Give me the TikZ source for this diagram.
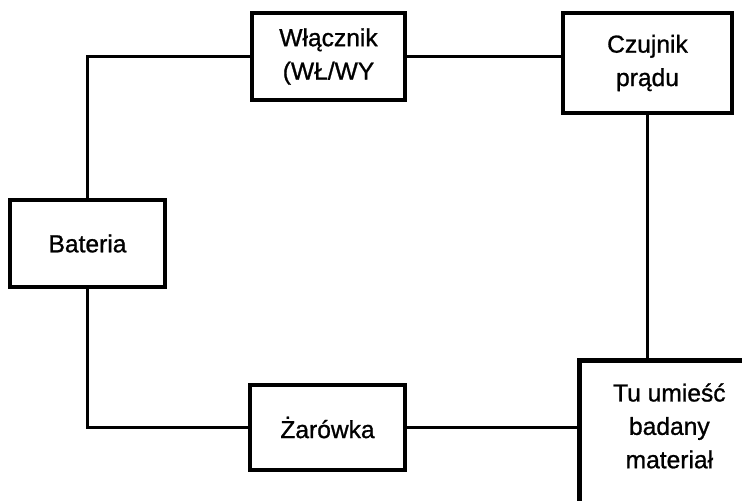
\documentclass[tikz,border=0pt]{standalone}
\usepackage{fontspec}
\setmainfont{Liberation Sans}
\newfontfamily\boxfont[FakeBold=1]{Liberation Sans}
\usetikzlibrary{positioning}
\tikzset{%
block/.style={draw,line width=2.7pt,rectangle,align=center,font=\boxfont\fontsize{14}{19}\selectfont},
wire/.style={line width=2.1pt},
blank/.style={inner sep=0,minimum size=0}
}

\begin{document}
\begin{tikzpicture}[x=0.02cm,y=-0.02cm]

    \useasboundingbox (0,0) rectangle (742,500);
    \clip (0,0) rectangle (742,500);

    \node[block,minimum width=3.06cm,minimum height=1.74cm] (sw) at (328.5,56.5) {Włącznik\\(WŁ/WY};
    \node[block,minimum width=3.38cm,minimum height=2.0cm] (sens) at (647.5,63) {Czujnik\\prądu};
    \node[block,minimum width=3.1cm,minimum height=1.74cm] (bat) at (87.5,243.5) {Bateria};
    \node[block,minimum width=3.1cm,minimum height=1.7cm] (bulb) at (327.5,427.5) {Żarówka};
    \node[block,minimum width=4cm,minimum height=3.4cm,anchor=north west] (mat) at (577,358) {};
    \node[blank,align=center,font=\boxfont\fontsize{14}{19}\selectfont,below=0.5cm of mat.north,xshift=-0.2cm] (matlbl) {Tu umieść\\badany\\materiał};

    \coordinate (tl) at (bat.north |- sw.west);
    \coordinate (bl) at (bat.south |- bulb.west);

    \draw[wire] (bat.north) -- (tl) -- (sw.west);
    \draw[wire] (bat.south) -- (bl) -- (bulb.west);
    \draw[wire] (sw.east) -- (sw.east -| sens.west);
    \draw[wire] (sens.south) -- (sens.south |- mat.north);
    \draw[wire] (bulb.east) -- (bulb.east -| mat.west);

  \end{tikzpicture}
\end{document}
